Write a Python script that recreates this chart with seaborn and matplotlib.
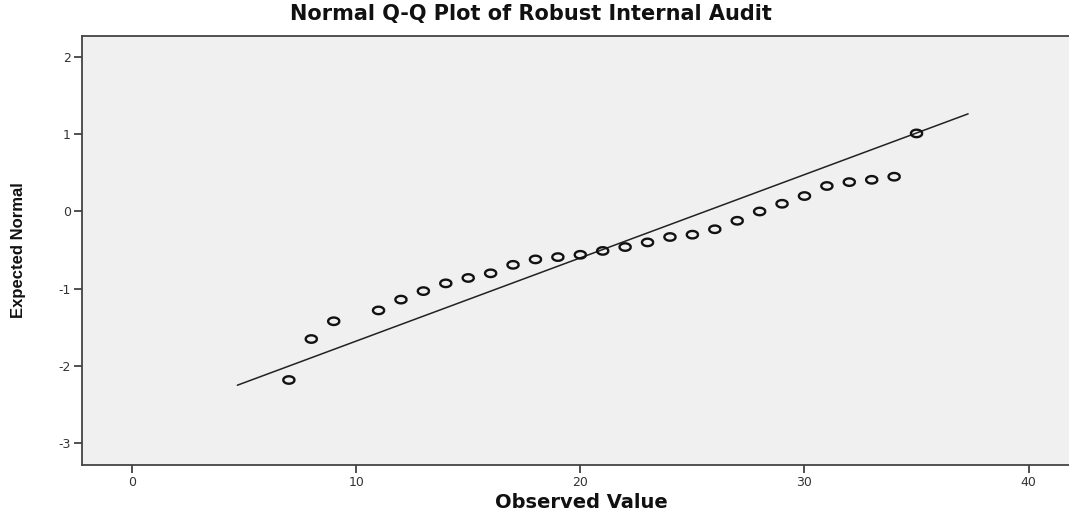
import numpy as np
import pandas as pd
import matplotlib
matplotlib.use('Agg')
import matplotlib.pyplot as plt
from matplotlib.path import Path
import seaborn as sns

# Data
observed = [7, 8, 9, 11, 12, 13, 14, 15, 16, 17, 18, 19, 20, 21, 22, 23, 24,
            25, 26, 27, 28, 29, 30, 31, 32, 33, 34, 35]
expected = [-2.18, -1.65, -1.42, -1.28, -1.14, -1.03, -0.93, -0.86, -0.80,
            -0.69, -0.62, -0.59, -0.56, -0.51, -0.46, -0.40, -0.33, -0.30,
            -0.23, -0.12, 0.00, 0.10, 0.20, 0.33, 0.38, 0.41, 0.45, 1.01]
line_x = [4.7, 37.3]
fit_mean = 25.57
fit_sd = 9.285
x_ticks = [0, 10, 20, 30, 40]
y_ticks = [-3, -2, -1, 0, 1, 2]

df = pd.DataFrame({'observed': observed, 'expected': expected})
line_df = pd.DataFrame({'x': line_x})
line_df['y'] = (line_df['x'] - fit_mean) / fit_sd

sns.set_style('white')
plt.rcParams['font.family'] = ['DejaVu Sans']
plt.rcParams['axes.unicode_minus'] = False

fig = plt.figure(figsize=(10.69, 5.14), dpi=100)
ax = fig.add_axes([0.0767, 0.0953, 0.9233, 0.8346])
ax.set_facecolor('#f0f0f0')

# wide ellipse marker, like the stretched SPSS circles
t = np.linspace(0, 2 * np.pi, 40)
ellipse = Path(np.column_stack([1.5 * np.cos(t), np.sin(t)]))

sns.lineplot(data=line_df, x='x', y='y', ax=ax, color='#222222', lw=1.1)
sns.scatterplot(data=df, x='observed', y='expected', ax=ax, marker=ellipse,
                s=65, facecolors='none', edgecolor='#111111', linewidth=1.7,
                zorder=3)

ax.set_xlim(-2.23, 41.8)
ax.set_ylim(-3.28, 2.27)
ax.set_xticks(x_ticks)
ax.set_yticks(y_ticks)
ax.tick_params(axis='both', direction='out', length=6, width=1.2,
               color='#333333', labelsize=9, labelcolor='#333333', pad=2,
               bottom=True, left=True)

for side in ['left', 'bottom', 'top']:
    ax.spines[side].set_color('#444444')
    ax.spines[side].set_linewidth(1.3)
ax.spines['right'].set_visible(False)

ax.set_xlabel('')
ax.set_ylabel('')
fig.text(0.544, 0.004, 'Observed Value', ha='center', va='bottom',
         fontsize=14, fontweight='bold', color='#111111')
fig.text(0.017, 0.513, 'Expected Normal', ha='center', va='center',
         rotation=90, fontsize=12, fontweight='bold', color='#111111',
         family=['Liberation Sans Narrow', 'Liberation Sans', 'DejaVu Sans'])
fig.text(0.497, 0.972, 'Normal Q-Q Plot of Robust Internal Audit',
         ha='center', va='center', fontsize=15, fontweight='bold',
         color='#111111')

fig.savefig('out.png', dpi=100)
